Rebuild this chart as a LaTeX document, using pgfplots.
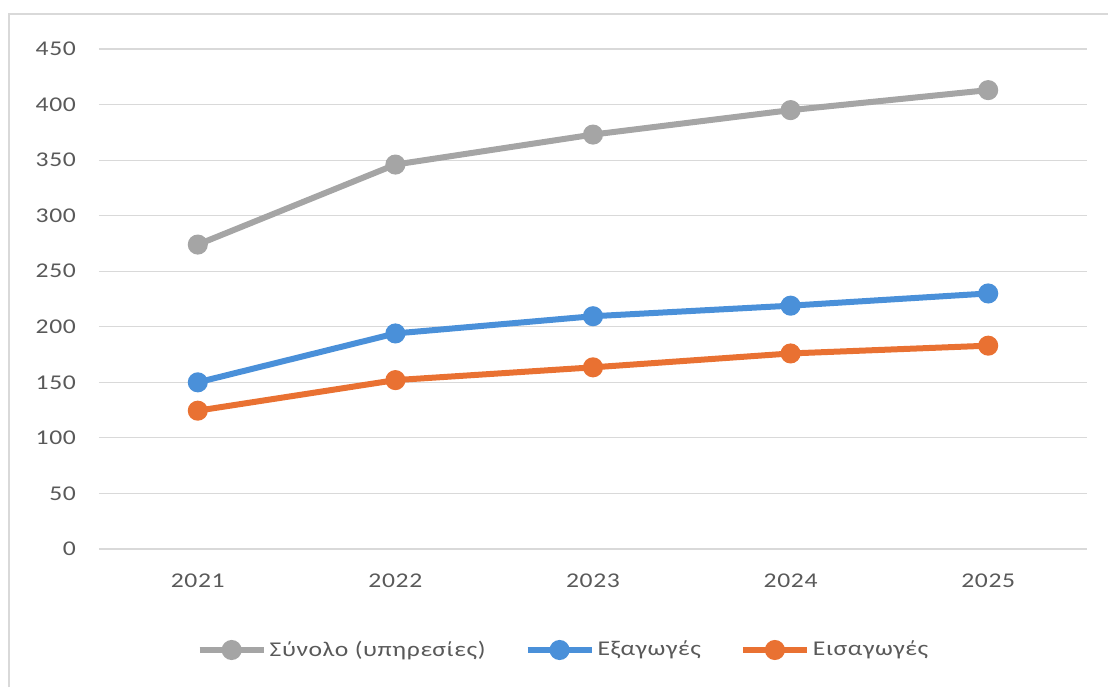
\documentclass[border=0pt]{standalone}
\usepackage{fontspec}
\setmainfont{Carlito}[FakeStretch=1.22, LetterSpace=3]
\usepackage{pgfplots}
\pgfplotsset{compat=1.18}

\definecolor{sgray}{HTML}{A5A5A5}
\definecolor{sblue}{HTML}{4A90D9}
\definecolor{sorange}{HTML}{E97132}
\definecolor{txt}{HTML}{595959}
\definecolor{gridc}{HTML}{D9D9D9}

\begin{document}
\begin{tikzpicture}
    % 1 px of the reference = 0.5pt
    \useasboundingbox (0,0) rectangle (554pt,343.5pt);
    \draw[gridc, line width=0.6pt] (4.5pt,0) -- (4.5pt,336.5pt) -- (554pt,336.5pt);

    \begin{axis}[
            at={(49.5pt,69pt)}, anchor=south west,
            scale only axis,
            width=494pt, height=250pt,
            xmin=-0.5, xmax=4.5,
            ymin=0, ymax=450,
            xtick=data,
            xticklabels={2021,2022,2023,2024,2025},
            ytick={0,50,...,450},
            axis line style={draw=none},
            major tick length=0pt,
            ymajorgrids,
            grid style={gridc, line width=0.6pt},
            tick label style={font=\fontsize{10.5}{12}\selectfont, text=txt},
            /pgf/number format/assume math mode=true,
            yticklabel style={xshift=-8pt},
            xticklabel style={yshift=-9pt},
            legend columns=3,
            legend style={
                at={(0.4706,-0.202)}, anchor=center,
                draw=none, fill=none,
                font=\fontsize{10.5}{12}\selectfont, text=txt,
                nodes={inner xsep=1.5pt},
                /tikz/every even column/.append style={column sep=18pt},
            },
            legend image code/.code={
                \draw[#1, mark repeat=2, mark phase=2] plot coordinates {(0pt,0pt) (16pt,0pt) (32pt,0pt)};
            },
            every axis plot/.append style={line width=3pt, mark=*, mark size=3.5pt},
        ]

        \addplot[sgray, mark options={fill=sgray, draw=sgray}] coordinates {
            (0,274) (1,346) (2,373) (3,395) (4,413)
        };
        \addplot[sblue, mark options={fill=sblue, draw=sblue}] coordinates {
            (0,150) (1,194) (2,209.5) (3,219) (4,230)
        };
        \addplot[sorange, mark options={fill=sorange, draw=sorange}] coordinates {
            (0,124.5) (1,152) (2,163.5) (3,176) (4,183)
        };
        \legend{Σύνολο (υπηρεσίες), Εξαγωγές, Εισαγωγές}
    \end{axis}
\end{tikzpicture}
\end{document}
